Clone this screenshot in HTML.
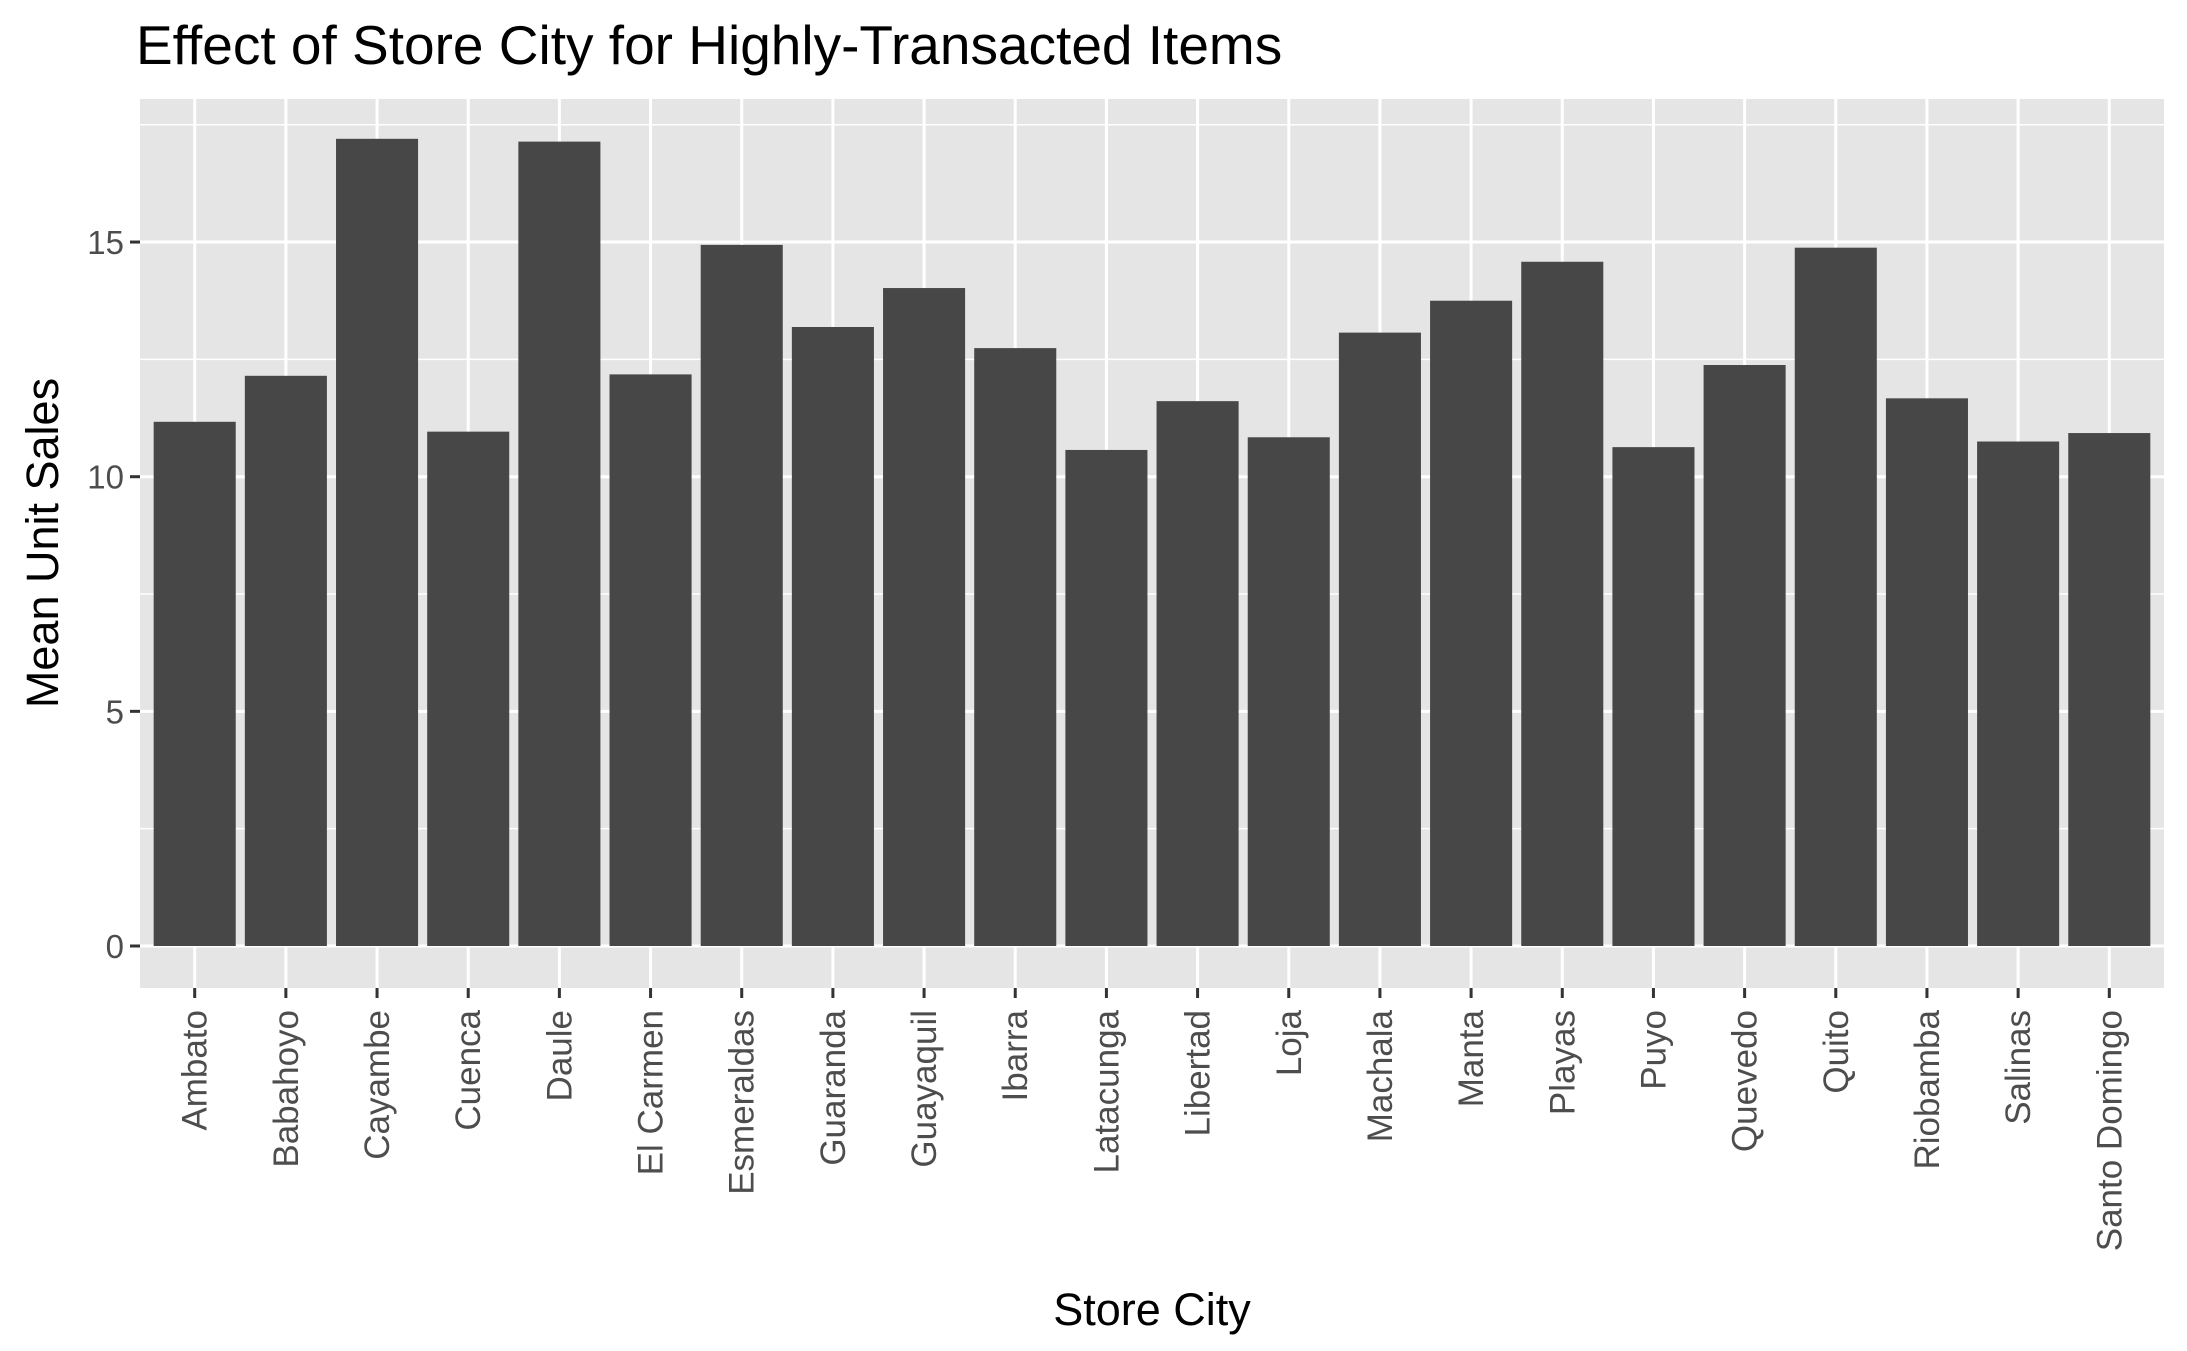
<!DOCTYPE html>
<html><head><meta charset="utf-8"><style>
body{margin:0;background:#fff}
svg{display:block;font-family:"Liberation Sans",Arial,sans-serif}
</style></head><body>
<svg id="chart" width="2187" height="1351" viewBox="0 0 2187 1351">
<text x="136" y="64" font-size="55" fill="#000">Effect of Store City for Highly-Transacted Items</text>
<rect x="140" y="99" width="2024" height="889" fill="#e5e5e5"/>
<g id="grid"></g>
<g id="bars"></g>
<g id="yaxis"></g>
<g id="xaxis"></g>
<text x="1152" y="1325" font-size="45" text-anchor="middle" fill="#000">Store City</text>
<text transform="translate(58,543) rotate(-90)" font-size="45" text-anchor="middle" fill="#000">Mean Unit Sales</text>
</svg>
<script>
const categories=["Ambato","Babahoyo","Cayambe","Cuenca","Daule","El Carmen","Esmeraldas","Guaranda","Guayaquil","Ibarra","Latacunga","Libertad","Loja","Machala","Manta","Playas","Puyo","Quevedo","Quito","Riobamba","Salinas","Santo Domingo"];
const values=[11.17,12.15,17.2,10.96,17.14,12.18,14.94,13.19,14.02,12.74,10.57,11.61,10.84,13.07,13.75,14.58,10.63,12.38,14.88,11.67,10.75,10.93];
const yTicks=[0,5,10,15];
const yMinor=[2.5,7.5,12.5,17.5];
const NS="http://www.w3.org/2000/svg";
const PL=140,PR=2164,PT=99,PB=988,Y0=946,PXU=46.93;
const y=v=>Y0-v*PXU;
const step=(PR-PL)/(categories.length-1+1.2);
const x=i=>PL+(i+0.6)*step;
function mk(tag,attrs,parent){const e=document.createElementNS(NS,tag);for(const k in attrs)e.setAttribute(k,attrs[k]);parent.appendChild(e);return e;}
const grid=document.getElementById('grid'),bars=document.getElementById('bars'),ya=document.getElementById('yaxis'),xa=document.getElementById('xaxis');
yMinor.forEach(v=>{if(y(v)<PT)return;const l=mk('line',{x1:PL,x2:PR,y1:y(v),y2:y(v),stroke:'#fff','stroke-width':1.5},grid);

});
yTicks.forEach(v=>{const l=mk('line',{x1:PL,x2:PR,y1:y(v),y2:y(v),stroke:'#fff','stroke-width':3},grid);


const t=mk('line',{x1:130,x2:PL,y1:y(v),y2:y(v),stroke:'#333','stroke-width':3},ya);


const tx=mk('text',{x:124,y:y(v)+12,'font-size':33,'text-anchor':'end',fill:'#4d4d4d'},ya);tx.textContent=v;

});
categories.forEach((c,i)=>{const cx=x(i);
const g=mk('line',{x1:cx,x2:cx,y1:PT,y2:PB,stroke:'#fff','stroke-width':3},grid);


const bw=step*0.9;
const r=mk('rect',{x:cx-bw/2,y:y(values[i]),width:bw,height:Y0-y(values[i]),fill:'#474747'},bars);


const t=mk('line',{x1:cx,x2:cx,y1:PB,y2:PB+10,stroke:'#333','stroke-width':3},xa);


const tx=mk('text',{transform:`translate(${cx+12},1010) rotate(-90)`,'font-size':35,'text-anchor':'end',fill:'#4d4d4d'},xa);tx.textContent=c;

});
</script>
</body></html>
